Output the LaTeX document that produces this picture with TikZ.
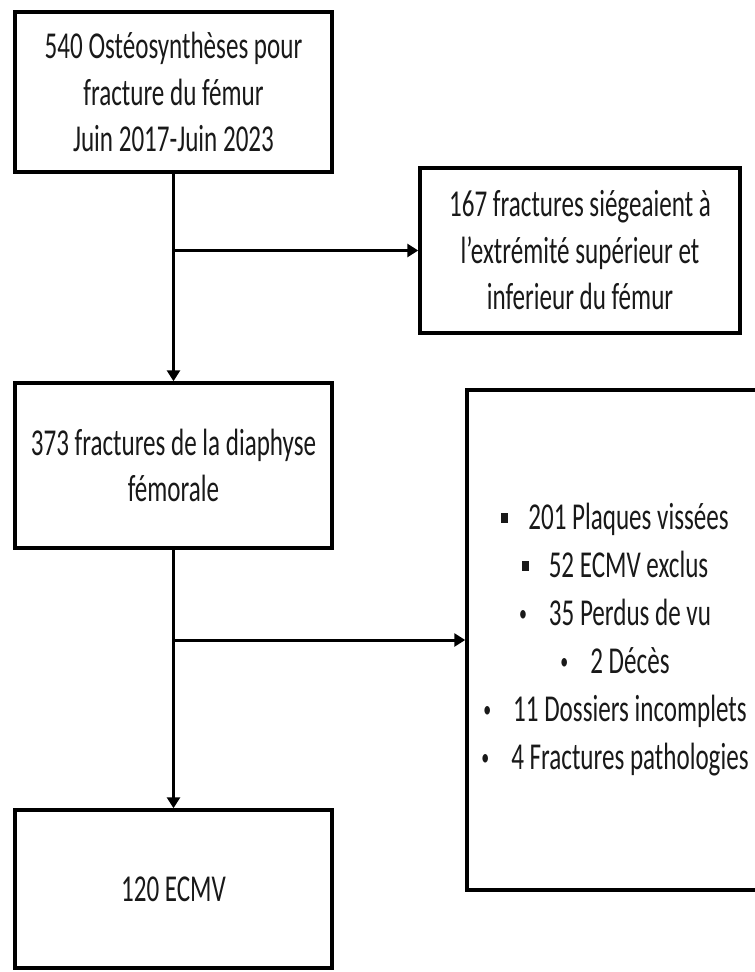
\documentclass[tikz,border=0pt]{standalone}
\usepackage{fontspec}
\setmainfont{Carlito}[FakeStretch=0.66]
\usetikzlibrary{arrows.meta}
\newcommand{\sqbul}{\rule[7pt]{7pt}{10pt}\hspace{20pt}}
\newcommand{\rdbul}{\raisebox{4.5pt}{\fontsize{24pt}{0pt}\selectfont\textbullet}\hspace{22pt}}
\tikzset{
  box/.style={draw=black, line width=3.5pt, fill=white, align=center, inner sep=0pt,
    font=\fontsize{38pt}{46.5pt}\selectfont, text=black!90},
  link/.style={line width=3pt, draw=black},
  arr/.style={link, -{Triangle[length=11pt,width=13pt]}},
}
\begin{document}
\begin{tikzpicture}[x=1pt,y=-1pt]
\useasboundingbox (0,0) rectangle (755,972);
\node[box, minimum width=317pt, minimum height=160pt] (a) at (173.5,92)
  {540 Ostéosynthèses pour\\fracture du fémur\\Juin 2017-Juin 2023};
\node[box, minimum width=320pt, minimum height=165pt] (b) at (580,250.5)
  {167 fractures siégeaient à\\l’extrémité supérieur et\\inferieur du fémur};
\node[box, minimum width=317pt, minimum height=165pt] (c) at (173.5,465.5)
  {373 fractures de la diaphyse\\fémorale};
\node[box, minimum width=296pt, minimum height=500pt,
      font=\fontsize{38pt}{48pt}\selectfont] (d) at (615,640)
  {\sqbul 201 Plaques vissées\\
   \sqbul 52 ECMV exclus\\
   \rdbul 35 Perdus de vu\\
   \rdbul 2 Décès\\
   \rdbul 11 Dossiers incomplets\\
   \rdbul 4 Fractures pathologies};
\node[box, minimum width=317pt, minimum height=158pt] (e) at (173.5,889) {120 ECMV};
\coordinate (j1) at (a.south |- b.west);
\coordinate (j2) at (c.south |- d.west);
\draw[arr] (a.south) -- (c.north);
\draw[arr] (j1) -- (b.west);
\draw[arr] (c.south) -- (e.north);
\draw[arr] (j2) -- (d.west);
\end{tikzpicture}
\end{document}
